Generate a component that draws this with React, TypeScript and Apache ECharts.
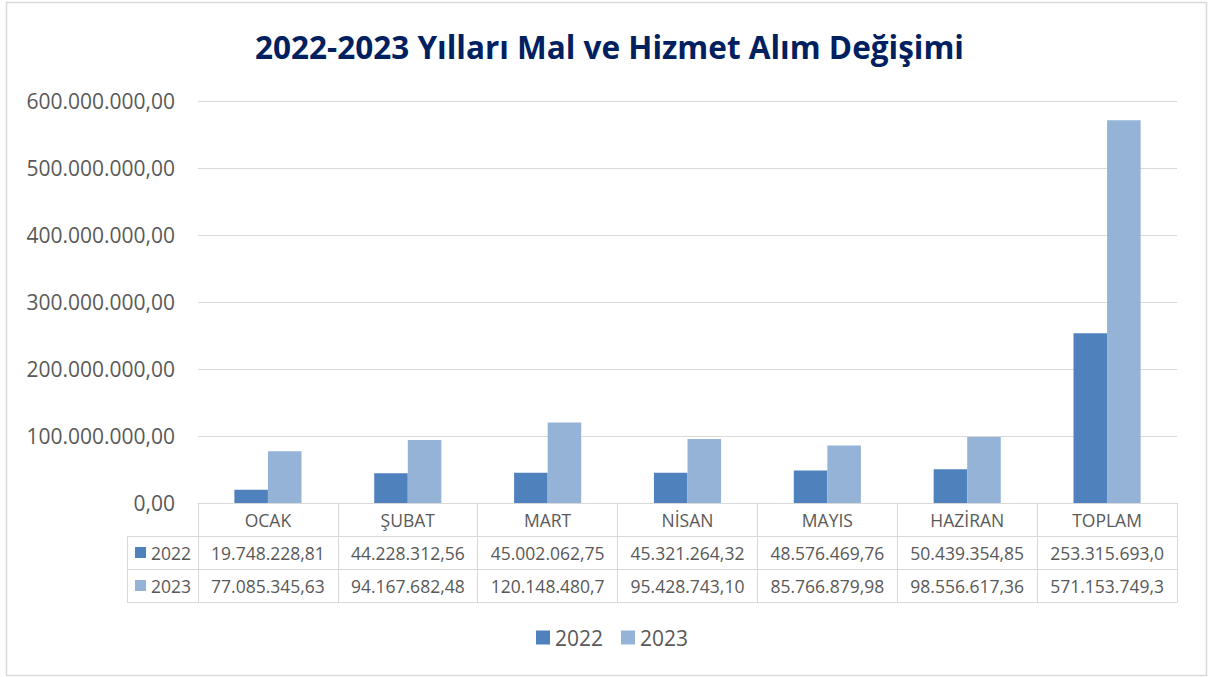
import React, { useEffect, useRef } from "react";
import * as echarts from "echarts";

const categories = ["OCAK", "ŞUBAT", "MART", "NİSAN", "MAYIS", "HAZİRAN", "TOPLAM"];
const seriesNames = ["2022", "2023"];
const values2022 = [19748228.81, 44228312.56, 45002062.75, 45321264.32, 48576469.76, 50439354.85, 253315693.0];
const values2023 = [77085345.63, 94167682.48, 120148480.7, 95428743.1, 85766879.98, 98556617.36, 571153749.3];
const yTicks = { min: 0, max: 600000000, interval: 100000000 };

const colors = ["#4F81BD", "#95B3D7"];
const FONT = "Open Sans";
const TEXT = "#595959";
const LINE = "#D9D9D9";

function fmt(v: number): string {
  const [i, d] = v.toFixed(2).split(".");
  return i.replace(/\B(?=(\d{3})+(?!\d))/g, ".") + "," + d;
}
function cell(v: number): string {
  return fmt(v).slice(0, 13);
}

export default function App() {
  const ref = useRef<HTMLDivElement>(null);
  useEffect(() => {
    if (!ref.current) return;
    const chart = echarts.init(ref.current, undefined, { renderer: "svg" });
    const L = 198, R = 1177, T = 101, B = 503, ROW = 33, KEYL = 127;
    const tableAxis = (data: string[], offset: number, showLabel: boolean, showTick: boolean) => ({
      type: "category",
      data,
      position: "bottom",
      offset,
      gridIndex: 0,
      boundaryGap: true,
      axisLine: { show: true, lineStyle: { color: LINE, width: 1 } },
      axisTick: { show: showTick, interval: 0, length: ROW, lineStyle: { color: LINE, width: 1 } },
      axisLabel: { show: showLabel, interval: 0, margin: 8, color: TEXT, fontFamily: FONT, fontSize: 17.5 },
      splitLine: { show: false },
    });
    const option: any = {
      animation: false,
      title: {
        text: "2022-2023 Yılları Mal ve Hizmet Alım Değişimi",
        left: "center",
        top: 25,
        textStyle: { color: "#002060", fontFamily: FONT, fontWeight: "bold", fontSize: 31.5 },
      },
      legend: {
        data: seriesNames,
        left: 531,
        top: 622,
        itemWidth: 14,
        itemHeight: 14,
        itemGap: 18,
        icon: "rect",
        textStyle: { color: TEXT, fontFamily: FONT, fontSize: 21 },
      },
      grid: { left: L, right: 1219 - R, top: T, height: B - T, containLabel: false },
      xAxis: [
        tableAxis(categories, 0, true, true),
        tableAxis(values2022.map(cell), ROW, true, true),
        tableAxis(values2023.map(cell), ROW * 2, true, true),
        tableAxis(categories.map(() => ""), ROW * 3, false, false),
      ],
      yAxis: {
        type: "value",
        min: yTicks.min,
        max: yTicks.max,
        interval: yTicks.interval,
        axisLine: { show: false },
        axisTick: { show: false },
        axisLabel: { margin: 23, color: TEXT, fontFamily: FONT, fontSize: 21, formatter: (v: number) => fmt(v) },
        splitLine: { lineStyle: { color: LINE, width: 1 } },
      },
      series: [
        { name: seriesNames[0], type: "bar", xAxisIndex: 0, data: values2022, barWidth: "24%", barGap: "0%", itemStyle: { color: colors[0] } },
        { name: seriesNames[1], type: "bar", xAxisIndex: 0, data: values2023, barWidth: "24%", barGap: "0%", itemStyle: { color: colors[1] } },
      ],
      graphic: [
        { type: "rect", shape: { x: 6.5, y: 2.5, width: 1200, height: 673 }, style: { fill: "none", stroke: LINE, lineWidth: 1.5 }, silent: true },
        ...[1, 2, 3].map((k) => ({
          type: "line",
          shape: { x1: KEYL, y1: B + ROW * k + 0.5, x2: L, y2: B + ROW * k + 0.5 },
          style: { stroke: LINE, lineWidth: 1 },
        })),
        { type: "line", shape: { x1: KEYL + 0.5, y1: B + ROW, x2: KEYL + 0.5, y2: B + ROW * 3 }, style: { stroke: LINE, lineWidth: 1 } },
        ...seriesNames.flatMap((n, k) => [
          { type: "rect", shape: { x: 135, y: B + ROW * (k + 1) + 11, width: 11, height: 11 }, style: { fill: colors[k] } },
          {
            type: "text",
            x: 151,
            y: B + ROW * (k + 1) + 17,
            style: { text: n, fill: TEXT, fontFamily: FONT, fontSize: 17.5, verticalAlign: "middle", align: "left" },
          },
        ]),
      ],
    };
    chart.setOption(option);
    return () => chart.dispose();
  }, []);
  return <div ref={ref} style={{ position: "fixed", left: 0, top: 0, width: 1219, height: 677, background: "#fff" }} />;
}
